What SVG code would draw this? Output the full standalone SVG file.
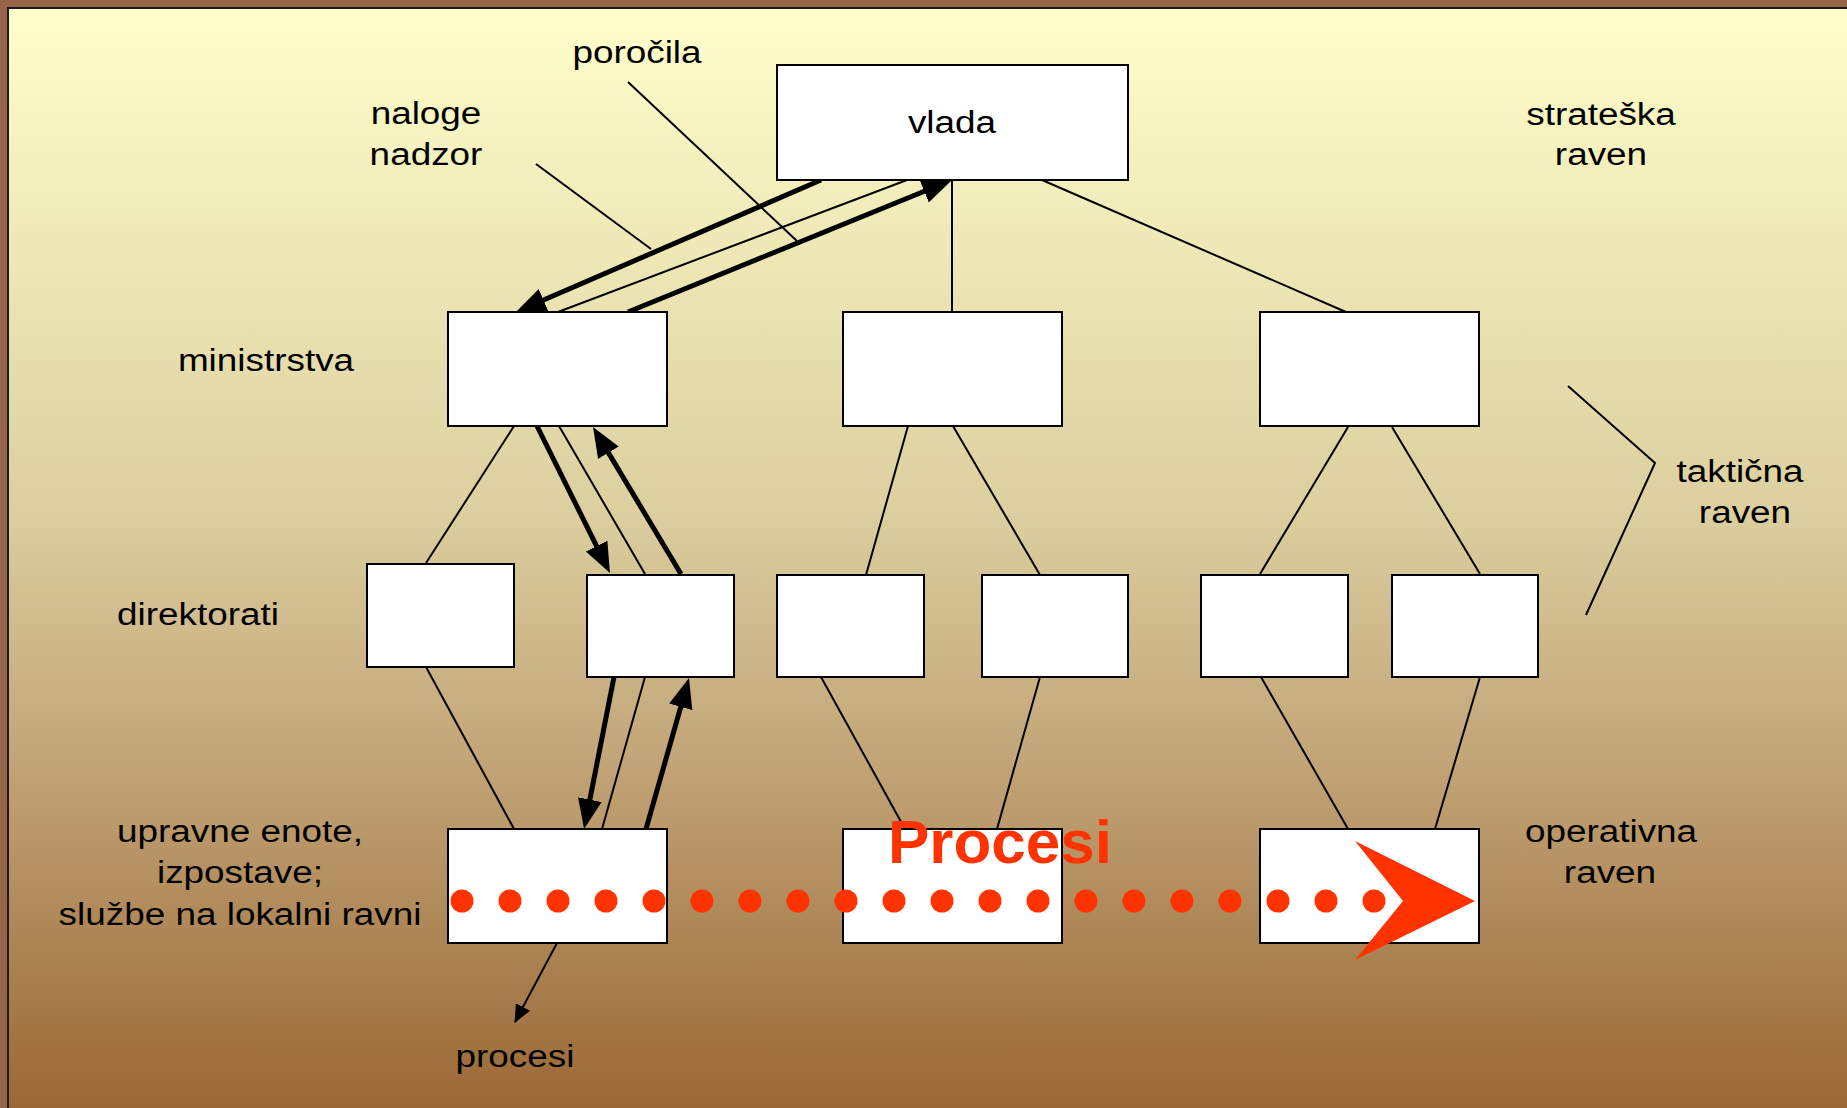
<svg xmlns="http://www.w3.org/2000/svg" width="1847" height="1108" viewBox="0 0 1847 1108">
  <defs>
    <linearGradient id="panelFill" x1="0" y1="0" x2="0" y2="1">
      <stop offset="0" stop-color="#FFFFCC"/>
      <stop offset="0.45" stop-color="#DCCFA0"/>
      <stop offset="0.7" stop-color="#BFA073"/>
      <stop offset="1" stop-color="#996633"/>
    </linearGradient>
    <marker id="head" viewBox="0 -13 32 26" markerWidth="32" markerHeight="26" refX="22" refY="0" orient="auto" markerUnits="userSpaceOnUse">
      <path d="M0,-12 L30,0 L0,12 z" fill="#000"/>
    </marker>
    <marker id="headSmall" viewBox="0 -9 20 18" markerWidth="20" markerHeight="18" refX="17" refY="0" orient="auto" markerUnits="userSpaceOnUse">
      <path d="M0,-8 L18,0 L0,8 z" fill="#000"/>
    </marker>
  </defs>
  <style>
    .box { fill: #FFFFFF; stroke: #000; stroke-width: 2; }
    .thin { stroke: #000; stroke-width: 2; fill: none; }
    .thick { stroke: #000; stroke-width: 5; fill: none; marker-end: url(#head); }
    .lbl { font-family: "Liberation Sans", Arial, sans-serif; font-size: 31px; fill: #000; text-anchor: middle; }
    .dot { fill: #FF3300; }
  </style>

  <!-- frame and panel -->
  <rect x="0" y="0" width="1847" height="1108" fill="#96654A"/>
  <rect x="8" y="8" width="1850" height="1110" fill="url(#panelFill)" stroke="#1A1A1A" stroke-width="2"/>

  <!-- connectors -->
  <g id="connectors">
    <line class="thin" x1="952" y1="180" x2="952" y2="312"/>
    <line class="thin" x1="1042" y1="180" x2="1346" y2="312"/>
    <line class="thin" x1="907" y1="180" x2="558" y2="312"/>
    <line class="thick" x1="821" y1="180" x2="523.3" y2="308.8"/>
    <line class="thick" x1="628" y1="312" x2="944.6" y2="183"/>

    <line class="thin" x1="514" y1="426" x2="426" y2="563"/>
    <line class="thin" x1="559" y1="426" x2="645" y2="574"/>
    <line class="thick" x1="537" y1="426" x2="606.4" y2="565.8"/>
    <line class="thick" x1="681" y1="574" x2="597.1" y2="433.9"/>
    <line class="thin" x1="908" y1="426" x2="866" y2="575"/>
    <line class="thin" x1="953" y1="426" x2="1040" y2="575"/>
    <line class="thin" x1="1348" y1="427" x2="1260" y2="574"/>
    <line class="thin" x1="1392" y1="427" x2="1480" y2="574"/>

    <line class="thin" x1="426" y1="667" x2="514" y2="829"/>
    <line class="thin" x1="645" y1="677" x2="602" y2="829"/>
    <line class="thick" x1="614" y1="677" x2="585.6" y2="821.2"/>
    <line class="thick" x1="646" y1="829" x2="686.8" y2="685.7"/>
    <line class="thin" x1="821" y1="677" x2="905" y2="829"/>
    <line class="thin" x1="1040" y1="677" x2="997" y2="829"/>
    <line class="thin" x1="1261" y1="677" x2="1348" y2="829"/>
    <line class="thin" x1="1480" y1="677" x2="1435" y2="829"/>

    <line class="thin" x1="557" y1="943" x2="515" y2="1022" marker-end="url(#headSmall)"/>

    <!-- label leaders and level bracket -->
    <line class="thin" x1="536" y1="164" x2="651" y2="249" stroke-width="1.6"/>
    <line class="thin" x1="628" y1="82" x2="797" y2="241" stroke-width="2.6"/>
    <polyline class="thin" points="1568,386 1655,463 1586,615"/>
  </g>

  <!-- strategic level -->
  <g id="vlada">
    <rect class="box" x="777" y="65" width="351" height="115"/>
    <text class="lbl" transform="translate(952 133) scale(1.19 1)">vlada</text>
  </g>

  <!-- ministries -->
  <g id="ministrstvo-1"><rect class="box" x="448" y="312" width="219" height="114"/></g>
  <g id="ministrstvo-2"><rect class="box" x="843" y="312" width="219" height="114"/></g>
  <g id="ministrstvo-3"><rect class="box" x="1260" y="312" width="219" height="114"/></g>

  <!-- directorates -->
  <g id="direktorat-1"><rect class="box" x="367" y="564" width="147" height="103"/></g>
  <g id="direktorat-2"><rect class="box" x="587" y="575" width="147" height="102"/></g>
  <g id="direktorat-3"><rect class="box" x="777" y="575" width="147" height="102"/></g>
  <g id="direktorat-4"><rect class="box" x="982" y="575" width="146" height="102"/></g>
  <g id="direktorat-5"><rect class="box" x="1201" y="575" width="147" height="102"/></g>
  <g id="direktorat-6"><rect class="box" x="1392" y="575" width="146" height="102"/></g>

  <!-- local units -->
  <g id="enota-1"><rect class="box" x="448" y="829" width="219" height="114"/></g>
  <g id="enota-2"><rect class="box" x="843" y="829" width="219" height="114"/></g>
  <g id="enota-3"><rect class="box" x="1260" y="829" width="219" height="114"/></g>

  <!-- labels -->
  <g id="labels">
    <text class="lbl" transform="translate(637 63) scale(1.19 1)">poročila</text>
    <text class="lbl" transform="translate(426 124) scale(1.19 1)">naloge</text>
    <text class="lbl" transform="translate(426 165) scale(1.19 1)">nadzor</text>
    <text class="lbl" transform="translate(1601 125) scale(1.19 1)">strateška</text>
    <text class="lbl" transform="translate(1601 165) scale(1.19 1)">raven</text>
    <text class="lbl" transform="translate(266 371) scale(1.19 1)">ministrstva</text>
    <text class="lbl" transform="translate(1740 482) scale(1.19 1)">taktična</text>
    <text class="lbl" transform="translate(1745 523) scale(1.19 1)">raven</text>
    <text class="lbl" transform="translate(198 625) scale(1.19 1)">direktorati</text>
    <text class="lbl" transform="translate(240 842) scale(1.19 1)">upravne enote,</text>
    <text class="lbl" transform="translate(240 883) scale(1.19 1)">izpostave;</text>
    <text class="lbl" transform="translate(240 925) scale(1.19 1)">službe na lokalni ravni</text>
    <text class="lbl" transform="translate(1611 842) scale(1.19 1)">operativna</text>
    <text class="lbl" transform="translate(1610 883) scale(1.19 1)">raven</text>
    <text class="lbl" transform="translate(515 1067) scale(1.19 1)">procesi</text>
  </g>

  <!-- process flow across the operative level -->
  <g id="procesi-tok">
    <circle class="dot" cx="462" cy="901" r="11.5"/>
    <circle class="dot" cx="510" cy="901" r="11.5"/>
    <circle class="dot" cx="558" cy="901" r="11.5"/>
    <circle class="dot" cx="606" cy="901" r="11.5"/>
    <circle class="dot" cx="654" cy="901" r="11.5"/>
    <circle class="dot" cx="702" cy="901" r="11.5"/>
    <circle class="dot" cx="750" cy="901" r="11.5"/>
    <circle class="dot" cx="798" cy="901" r="11.5"/>
    <circle class="dot" cx="846" cy="901" r="11.5"/>
    <circle class="dot" cx="894" cy="901" r="11.5"/>
    <circle class="dot" cx="942" cy="901" r="11.5"/>
    <circle class="dot" cx="990" cy="901" r="11.5"/>
    <circle class="dot" cx="1038" cy="901" r="11.5"/>
    <circle class="dot" cx="1086" cy="901" r="11.5"/>
    <circle class="dot" cx="1134" cy="901" r="11.5"/>
    <circle class="dot" cx="1182" cy="901" r="11.5"/>
    <circle class="dot" cx="1230" cy="901" r="11.5"/>
    <circle class="dot" cx="1278" cy="901" r="11.5"/>
    <circle class="dot" cx="1326" cy="901" r="11.5"/>
    <circle class="dot" cx="1374" cy="901" r="11.5"/>
    <polygon fill="#FF3300" points="1355,841 1475,901 1355,960 1403,901"/>
    <text x="1000" y="863" font-family="'Liberation Sans', Arial, sans-serif" font-size="62" font-weight="bold" fill="#FF3300" text-anchor="middle">Procesi</text>
  </g>
</svg>
